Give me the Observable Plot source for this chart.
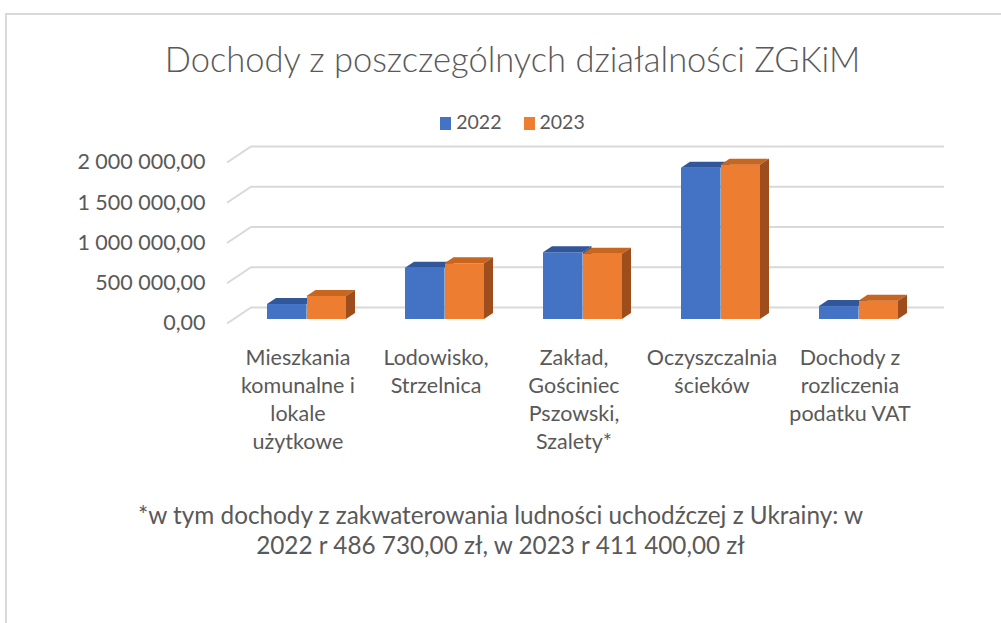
<!DOCTYPE html>
<html>
<head>
<meta charset="utf-8">
<script src="https://cdn.jsdelivr.net/npm/d3@7"></script>
<script src="https://cdn.jsdelivr.net/npm/@observablehq/plot@0.6"></script>
<style>
  html, body { margin: 0; padding: 0; background: #fff; width: 1001px; height: 623px; overflow: hidden; }
  body { position: relative; font-family: Lato, "Open Sans", sans-serif; color: #595959; }
  #frame { position: absolute; left: 5px; top: 13px; width: 1100px; height: 700px; border-left: 2px solid #d9d9d9; border-top: 2px solid #d9d9d9; }
  #title { position: absolute; left: 12px; width: 1001px; top: 36px; line-height: 46px; font-size: 34.5px; text-align: center; font-weight: 300; }
  #legend { position: absolute; left: 12px; width: 1001px; top: 109px; line-height: 26px; font-size: 19.5px; text-align: center; }
  #legend span.sw { display: inline-block; width: 11px; height: 13px; vertical-align: -1px; margin-right: 5px; }
  #legend span.item { margin: 0 11px; }
  #chart { position: absolute; left: 0; top: 130px; }
  #caption { position: absolute; left: 0; width: 1001px; top: 500px; font-size: 24.3px; line-height: 30px; text-align: center; }
</style>
</head>
<body>
<div id="frame"></div>
<div id="title">Dochody z poszczególnych działalności ZGKiM</div>
<div id="legend"></div>
<div id="chart"></div>
<div id="caption">*w tym dochody z zakwaterowania ludności uchodźczej z Ukrainy: w<br>2022 r 486 730,00 zł, w 2023 r 411 400,00 zł</div>
<script>
// ---- data ----
const categories = [
  "Mieszkania komunalne i lokale użytkowe",
  "Lodowisko, Strzelnica",
  "Zakład, Gościniec Pszowski, Szalety*",
  "Oczyszczalnia ścieków",
  "Dochody z rozliczenia podatku VAT"
];
const categoryLabels = [
  "Mieszkania\nkomunalne i\nlokale\nużytkowe",
  "Lodowisko,\nStrzelnica",
  "Zakład,\nGościniec\nPszowski,\nSzalety*",
  "Oczyszczalnia\nścieków",
  "Dochody z\nrozliczenia\npodatku VAT"
];
const seriesNames = ["2022", "2023"];
const values2022 = [186000, 637000, 829000, 1880000, 161000];
const values2023 = [286000, 692000, 811000, 1917000, 227000];
const yTicks = [0, 500000, 1000000, 1500000, 2000000];

// ---- styles ----
const colors = {
  "2022": {front: "#4472C4", top: "#31579A", side: "#2F528F"},
  "2023": {front: "#ED7D31", top: "#C8651F", side: "#9E4E1C"}
};

const rows2022 = categories.map((c, i) => ({cat: c, value: values2022[i], series: "2022"}));
const rows2023 = categories.map((c, i) => ({cat: c, value: values2023[i], series: "2023"}));

const locale = d3.formatLocale({decimal: ",", thousands: "\u00a0", grouping: [3], currency: ["", ""]});
const fmt = locale.format(",.2f");

// legend
const legend = document.getElementById("legend");
legend.innerHTML = seriesNames.map(s =>
  `<span class="item"><span class="sw" style="background:${colors[s].front}"></span>${s}</span>`).join("");

const DX = 9, DY = 6;

function gridMark(index, scales, values, dims) {
  const y = scales.y;
  const g = d3.create("svg:g").attr("stroke", "#d9d9d9").attr("stroke-width", 2).attr("fill", "none");
  const xl = dims.marginLeft + 21, xb = dims.marginLeft + 45, xr = dims.width - dims.marginRight - 16;
  for (const t of yTicks) {
    const yy = y(t);
    g.append("path").attr("d", `M${xl},${yy + 4.5}L${xb},${yy - 11.5}L${xr},${yy - 11.5}`);
  }
  return g.node();
}

function facesMark(rows, half) {
  return (index, scales) => {
    const x = scales.x, y = scales.y;
    const bw = typeof x.bandwidth === "function" ? x.bandwidth() : x.bandwidth;
    const g = d3.create("svg:g");
    for (const r of rows) {
      const x0 = x(r.cat) + (half === 0 ? 0 : bw / 2);
      const x1 = x0 + bw / 2;
      const yT = y(r.value), yB = y(0);
      const c = colors[r.series];
      g.append("polygon").attr("fill", c.top)
        .attr("points", `${x0},${yT} ${x0 + DX},${yT - DY} ${x1 + DX},${yT - DY} ${x1},${yT}`);
      g.append("polygon").attr("fill", c.side)
        .attr("points", `${x1},${yT} ${x1 + DX},${yT - DY} ${x1 + DX},${yB - DY} ${x1},${yB}`);
    }
    return g.node();
  };
}

const chart = Plot.plot({
  width: 1001,
  height: 350,
  marginLeft: 206,
  marginRight: 41,
  marginTop: 10,
  marginBottom: 135,
  style: {fontFamily: "Lato, 'Open Sans', sans-serif", fontSize: "20px", color: "#595959", background: "transparent"},
  x: {domain: categories, padding: 0.4245, axis: null},
  y: {domain: [0, 2000000], range: [189, 28], axis: null},
  marks: [
    gridMark,
    Plot.barY(rows2022, {x: "cat", y: "value", fill: colors["2022"].front, insetRight: 40}),
    facesMark(rows2022, 0),
    Plot.barY(rows2023, {x: "cat", y: "value", fill: colors["2023"].front, insetLeft: 40}),
    facesMark(rows2023, 1),
    Plot.text(categories, {x: d => d, text: (d, i) => categoryLabels[i], frameAnchor: "bottom", lineAnchor: "top",
      lineHeight: 1.3, fontSize: 21.5, fill: "#595959", textAnchor: "middle", dx: -9}),
    Plot.axisY(yTicks, {tickSize: 0, tickPadding: 1, tickFormat: d => fmt(d), fontSize: 21.5, fill: "#595959", dy: 4, label: null})
  ]
});
document.getElementById("chart").appendChild(chart);
</script>
</body>
</html>
